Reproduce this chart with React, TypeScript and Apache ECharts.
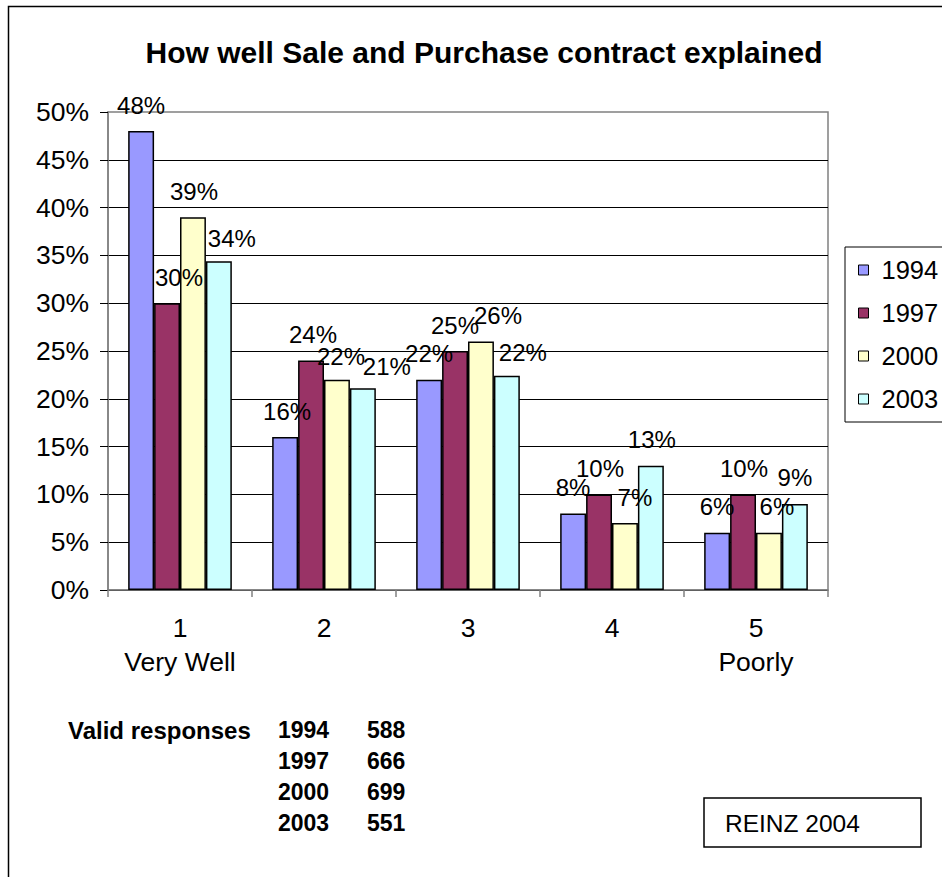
import React, { useEffect, useRef } from 'react';
import * as echarts from 'echarts';

const categories = ['1\nVery Well', '2', '3', '4', '5\nPoorly'];
const years = ['1994', '1997', '2000', '2003'];
const values1994 = [48, 16, 22, 8, 6];
const values1997 = [30, 24, 25, 10, 10];
const values2000 = [39, 22, 26, 7, 6];
const values2003 = [34.4, 21.1, 22.4, 13, 9];
const seriesValues = [values1994, values1997, values2000, values2003];
const seriesColors = ['#9999FF', '#993366', '#FFFFCC', '#CCFFFF'];

const validYears = ['1994', '1997', '2000', '2003'];
const validCounts = ['588', '666', '699', '551'];

const titleText = 'How well Sale and Purchase contract explained';
const sourceText = 'REINZ 2004';

// label nudges (layout only), [dx, dy] per series per category
const labelNudges = [
  [[0, 0], [2, 0], [0, 0], [0, 0], [0, 0]],
  [[12, 0], [2, 0], [0, 0], [1, 0], [1, 0]],
  [[1, 0], [4, 3], [17, 0], [10, 0], [8, 0]],
  [[13, 3], [24, 4], [16, 3], [1, 0], [0, 0]],
];

const FONT = '"Liberation Sans", Arial, Helvetica, sans-serif';

export default function App() {
  const ref = useRef<HTMLDivElement>(null);
  useEffect(() => {
    const chart = echarts.init(ref.current!, null, { renderer: 'svg' });
    const series = years.map((y, si) => ({
      name: y,
      type: 'bar',
      barGap: '0%',
      barCategoryGap: '28%',
      itemStyle: { color: seriesColors[si], borderColor: '#000', borderWidth: 1.5 },
      label: {
        show: true,
        position: 'top',
        distance: 14,
        fontSize: 24,
        color: '#000',
        fontFamily: FONT,
        formatter: (p: any) => Math.round(p.value) + '%',
      },
      data: seriesValues[si].map((v, ci) => ({
        value: v,
        label: { offset: labelNudges[si][ci] },
      })),
    }));

    const graphics: any[] = [
      {
        type: 'rect',
        silent: true,
        z: -10,
        shape: { x: 8.5, y: 6.5, width: 1000, height: 900 },
        style: { fill: 'none', stroke: '#000', lineWidth: 1.5 },
      },
      {
        type: 'text',
        x: 484,
        y: 52,
        style: {
          text: titleText,
          font: `bold 30px ${FONT}`,
          fill: '#000',
          textAlign: 'center',
          textVerticalAlign: 'middle',
        },
      },
      {
        type: 'text',
        x: 68,
        y: 730,
        style: {
          text: 'Valid responses',
          font: `bold 24px ${FONT}`,
          fill: '#000',
          textAlign: 'left',
          textVerticalAlign: 'middle',
        },
      },
      {
        type: 'rect',
        shape: { x: 704, y: 798, width: 217, height: 49 },
        style: { fill: '#fff', stroke: '#000', lineWidth: 1.5 },
      },
      {
        type: 'text',
        x: 725,
        y: 823,
        style: {
          text: sourceText,
          font: `24.5px ${FONT}`,
          fill: '#000',
          textAlign: 'left',
          textVerticalAlign: 'middle',
        },
      },
    ];
    validYears.forEach((yr, i) => {
      graphics.push({
        type: 'text',
        x: 278,
        y: 730 + i * 31,
        style: { text: yr, font: `bold 23px ${FONT}`, fill: '#000', textAlign: 'left', textVerticalAlign: 'middle' },
      });
      graphics.push({
        type: 'text',
        x: 367,
        y: 730 + i * 31,
        style: { text: validCounts[i], font: `bold 23px ${FONT}`, fill: '#000', textAlign: 'left', textVerticalAlign: 'middle' },
      });
    });

    chart.setOption({
      animation: false,
      backgroundColor: '#fff',
      grid: {
        left: 108,
        top: 112,
        width: 720,
        height: 478,
        show: true,
        borderColor: '#808080',
        borderWidth: 1.5,
        backgroundColor: 'transparent',
      },
      legend: {
        orient: 'vertical',
        left: 845,
        top: 247,
        padding: [10, 40, 10, 13],
        itemWidth: 10,
        itemHeight: 10,
        itemGap: 17,
        borderColor: '#000',
        borderWidth: 1,
        icon: 'rect',
        data: years,
        textStyle: { fontSize: 25.5, color: '#000', fontFamily: FONT, padding: [0, 0, 0, 8] },
        itemStyle: { borderColor: '#000', borderWidth: 1 },
      },
      xAxis: {
        type: 'category',
        data: categories,
        axisLine: { lineStyle: { color: '#808080', width: 1.5 } },
        axisTick: { show: true, length: 7, lineStyle: { color: '#808080', width: 1.5 } },
        axisLabel: {
          interval: 0,
          fontSize: 26.5,
          lineHeight: 34,
          margin: 21,
          color: '#000',
          fontFamily: FONT,
        },
      },
      yAxis: {
        type: 'value',
        min: 0,
        max: 50,
        interval: 5,
        axisLine: { show: true, lineStyle: { color: '#808080', width: 1.5 } },
        axisTick: { show: true, length: 8, lineStyle: { color: '#000', width: 1 } },
        axisLabel: {
          formatter: '{value}%',
          fontSize: 26.5,
          margin: 19,
          color: '#000',
          fontFamily: FONT,
        },
        splitLine: { show: true, showMaxLine: false, lineStyle: { color: '#000', width: 1 } },
      },
      graphic: graphics,
      series,
    });
    return () => chart.dispose();
  }, []);
  return (
    <div
      ref={ref}
      style={{ position: 'absolute', left: 0, top: 0, width: 942, height: 877, background: '#fff' }}
    />
  );
}
